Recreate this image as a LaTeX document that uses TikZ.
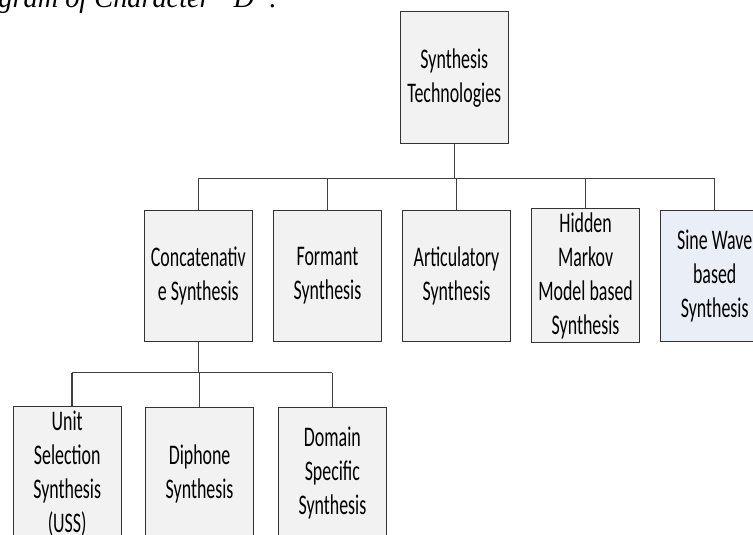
\documentclass[tikz,border=0pt]{standalone}
\usepackage{fontspec}
\usetikzlibrary{positioning}
\newfontfamily\boxfont{Carlito}[FakeStretch=0.63]
\newfontfamily\capfont{Liberation Serif}
\definecolor{boxgray}{HTML}{F2F2F2}
\definecolor{boxblue}{HTML}{E9EEF7}

\begin{document}
\begin{tikzpicture}[x=1pt,y=-1pt,
box/.style={draw=black!80,line width=1.1pt,fill=boxgray,rectangle,
    minimum height=131.5pt,text width=100pt,inner sep=4pt,align=flush center,
    font=\boxfont\fontsize{28.4}{34}\selectfont},
conn/.style={draw=black!75,line width=1.1pt}]
\useasboundingbox (0,0) rectangle (753,535);
\node (caption) [anchor=base east,inner sep=0pt,font=\capfont\itshape\fontsize{28.3}{32}\selectfont]
    at (277,8) {gram of Character “D”.};
% top level
\node (tech) [box] at (454.3,77.6) {Synthesis\\ Technologies};
% second level
\node (concat) [box] at (198.3,275.8) {Concatenativ\\ e Synthesis};
\node (formant) [box,right=20pt of concat] {Formant\\ Synthesis};
\node (artic) [box,right=20pt of formant] {Articulatory\\ Synthesis};
\node (hmm) [box,right=20pt of artic] {Hidden\\ Markov\\ Model based\\ Synthesis};
\node (sine) [box,fill=boxblue,right=20pt of hmm] {Sine Wave\\ based\\ Synthesis};
% third level
\node (unit) [box] at (67.2,473.5) {Unit\\ Selection\\ Synthesis\\ (USS)};
\node (diphone) [box,right=23.3pt of unit] {Diphone\\ Synthesis};
\node (domain) [box,right=23.7pt of diphone] {Domain\\ Specific\\ Synthesis};
% connectors
\coordinate (bus1) at (0,178.3);
\coordinate (bus2) at (0,372.7);
\draw[conn] (tech.south) -- (tech.south |- bus1);
\draw[conn] (concat.north |- bus1) -- (sine.north |- bus1);
\foreach \n in {concat,formant,artic,hmm,sine}
    \draw[conn] (\n.north) -- (\n.north |- bus1);
\draw[conn] (concat.south) -- (concat.south |- bus2);
\coordinate (unitin) at ([xshift=4.8pt]unit.north);
\draw[conn] (unitin |- bus2) -- (domain.north |- bus2);
\draw[conn] (unitin) -- (unitin |- bus2);
\foreach \n in {diphone,domain}
    \draw[conn] (\n.north) -- (\n.north |- bus2);
\end{tikzpicture}
\end{document}
